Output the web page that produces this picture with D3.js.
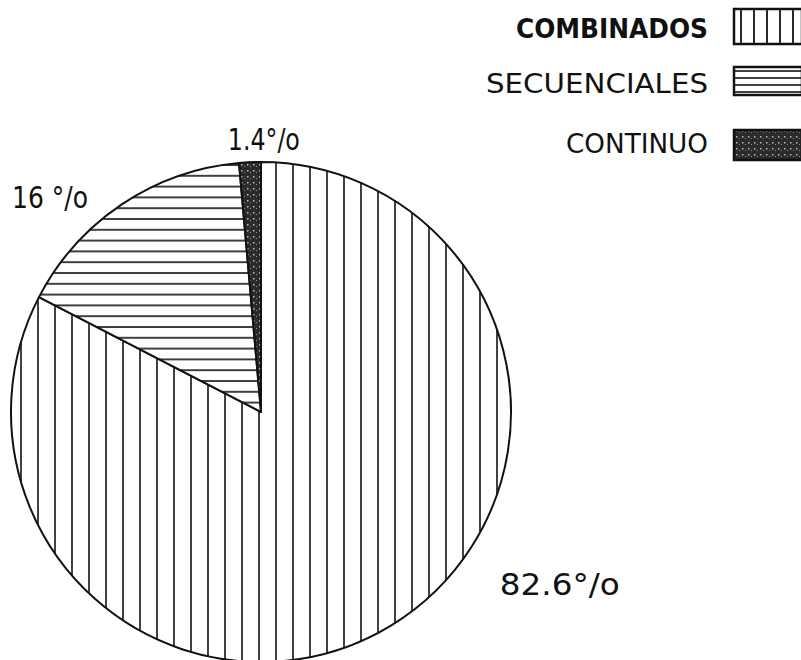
<!DOCTYPE html>
<html>
<head>
<meta charset="utf-8">
<script src="https://cdn.jsdelivr.net/npm/d3@7"></script>
<style>
  body { margin: 0; background: #fff; }
  svg { display: block; }
  .lbl { font-family: "DejaVu Sans", sans-serif; fill: #111; }
</style>
</head>
<body>
<div id="chart"></div>
<script>
// data
var categories = ["COMBINADOS", "SECUENCIALES", "CONTINUO"];
var values = [82.6, 16, 1.4];
var valueLabels = ["82.6°/o", "16 °/o", "1.4°/o"];
var patterns = ["vlines", "hlines", "dark"];

var svgWidth = 801;
var svgHeight = 660;

var svg = d3.select("#chart")
  .append("svg")
  .attr("width", svgWidth)
  .attr("height", svgHeight);

var defs = svg.append("defs");

// vertical hatch
var pv = defs.append("pattern")
  .attr("id", "vlines")
  .attr("patternUnits", "userSpaceOnUse")
  .attr("width", 17).attr("height", 20)
  .attr("x", 3);
pv.append("rect").attr("width", 17).attr("height", 20).attr("fill", "#fff");
pv.append("line").attr("x1", 1).attr("x2", 1).attr("y1", 0).attr("y2", 20)
  .attr("stroke", "#111").attr("stroke-width", 1.6);

// narrower vertical hatch for the legend box
var pv2 = defs.append("pattern")
  .attr("id", "vlines-key")
  .attr("patternUnits", "userSpaceOnUse")
  .attr("width", 13).attr("height", 20)
  .attr("x", 740);
pv2.append("rect").attr("width", 13).attr("height", 20).attr("fill", "#fff");
pv2.append("line").attr("x1", 1).attr("x2", 1).attr("y1", 0).attr("y2", 20)
  .attr("stroke", "#111").attr("stroke-width", 1.8);

// horizontal hatch
var ph = defs.append("pattern")
  .attr("id", "hlines")
  .attr("patternUnits", "userSpaceOnUse")
  .attr("width", 20).attr("height", 10.8)
  .attr("y", 2);
ph.append("rect").attr("width", 20).attr("height", 10.8).attr("fill", "#fff");
ph.append("line").attr("x1", 0).attr("x2", 20).attr("y1", 1).attr("y2", 1)
  .attr("stroke", "#111").attr("stroke-width", 1.6);

var ph2 = defs.append("pattern")
  .attr("id", "hlines-key")
  .attr("patternUnits", "userSpaceOnUse")
  .attr("width", 20).attr("height", 7)
  .attr("y", 70);
ph2.append("rect").attr("width", 20).attr("height", 7).attr("fill", "#fff");
ph2.append("line").attr("x1", 0).attr("x2", 20).attr("y1", 1).attr("y2", 1)
  .attr("stroke", "#111").attr("stroke-width", 1.6);

// dark stipple
var pd = defs.append("pattern")
  .attr("id", "dark")
  .attr("patternUnits", "userSpaceOnUse")
  .attr("width", 6).attr("height", 6);
pd.append("rect").attr("width", 6).attr("height", 6).attr("fill", "#2b2b2b");
pd.append("rect").attr("x", 1).attr("y", 2).attr("width", 1.5).attr("height", 1.5).attr("fill", "#bbb");
pd.append("rect").attr("x", 4).attr("y", 4).attr("width", 1).attr("height", 1).attr("fill", "#888");

var keyPatterns = ["vlines-key", "hlines-key", "dark"];

// pie
var cx = 261, cy = 412, radius = 250;

var pie = d3.pie().sort(null).value(d => d);
var arcs = pie(values);

var arc = d3.arc().innerRadius(0).outerRadius(radius);

var chartGroup = svg.append("g")
  .attr("transform", `translate(${cx}, ${cy})`);

// patterns are in page space, so shift them to the pie centre
defs.selectAll("#vlines, #hlines, #dark")
  .attr("patternTransform", `translate(${-cx}, ${-cy})`);

chartGroup.selectAll("path.slice")
  .data(arcs)
  .enter()
  .append("path")
  .attr("class", "slice")
  .attr("d", arc)
  .attr("fill", (d, i) => `url(#${patterns[i]})`)
  .attr("stroke", "#111")
  .attr("stroke-width", 2)
  .attr("stroke-linejoin", "round");

// value labels, placed outside the rim by angle / radius
var labelAngle = [120, 315.5, 0.6];
var labelRadius = [345, 301, 273];
var labelWidth = [120, 76, 72];

chartGroup.selectAll("text.val")
  .data(arcs)
  .enter()
  .append("text")
  .attr("class", "lbl val")
  .attr("x", (d, i) => labelRadius[i] * Math.sin(labelAngle[i] * Math.PI / 180) - labelWidth[i] / 2)
  .attr("y", (d, i) => -labelRadius[i] * Math.cos(labelAngle[i] * Math.PI / 180))
  .attr("dy", ".36em")
  .attr("font-size", 30)
  .attr("textLength", (d, i) => labelWidth[i])
  .attr("lengthAdjust", "spacingAndGlyphs")
  .text((d, i) => valueLabels[i]);

// legend
var legend = svg.append("g");
var legendY = [28, 83, 143];
var legendWidth = [192, 222, 142];
var legendWeight = ["bold", "normal", "normal"];
var boxTop = [9, 67, 130];
var boxHeight = [35, 28, 30];

legend.selectAll("text")
  .data(categories)
  .enter()
  .append("text")
  .attr("class", "lbl")
  .attr("x", 708)
  .attr("y", (d, i) => legendY[i])
  .attr("dy", ".36em")
  .attr("text-anchor", "end")
  .attr("font-size", 27)
  .attr("font-weight", (d, i) => legendWeight[i])
  .attr("textLength", (d, i) => legendWidth[i])
  .attr("lengthAdjust", "spacingAndGlyphs")
  .text(d => d);

legend.selectAll("rect")
  .data(categories)
  .enter()
  .append("rect")
  .attr("x", 734)
  .attr("y", (d, i) => boxTop[i])
  .attr("width", 68)
  .attr("height", (d, i) => boxHeight[i])
  .attr("fill", (d, i) => `url(#${keyPatterns[i]})`)
  .attr("stroke", "#111")
  .attr("stroke-width", 2.5);
</script>
</body>
</html>
